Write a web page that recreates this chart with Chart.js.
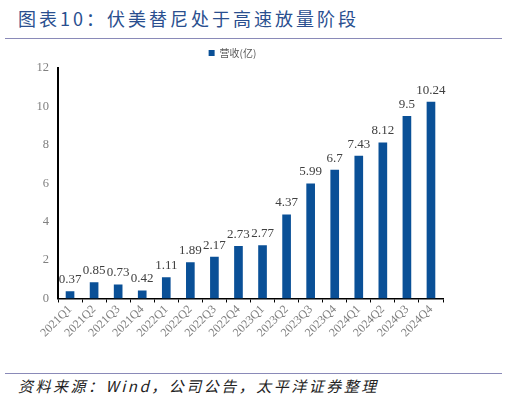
<!DOCTYPE html>
<html>
<head>
<meta charset="utf-8">
<script src="https://cdn.jsdelivr.net/npm/chart.js@4.4.1/dist/chart.umd.min.js"></script>
<style>
  body { margin: 0; background: #fff; width: 507px; height: 400px; position: relative; overflow: hidden; }
  .title { position: absolute; left: 18px; top: 5px; font-family: "Noto Sans CJK SC", sans-serif; font-size: 18px; color: #2a4f8f; letter-spacing: 3px; }
  .rule { position: absolute; left: 5px; right: 5px; height: 1px; background: #8a8ab8; }
  .source { position: absolute; left: 18px; top: 375px; font-family: "Noto Sans CJK SC", sans-serif; font-size: 15px; font-style: italic; color: #222; letter-spacing: 2.5px; }
  #wrap { position: absolute; left: 0; top: 40px; width: 507px; height: 330px; }
</style>
</head>
<body>
<div class="title">图表10：伏美替尼处于高速放量阶段</div>
<div class="rule" style="top:38px"></div>
<div id="wrap"><canvas id="revenueChart"></canvas></div>
<div class="rule" style="top:373px"></div>
<div class="source">资料来源：Wind，公司公告，太平洋证券整理</div>
<script>
const quarters = ['2021Q1', '2021Q2', '2021Q3', '2021Q4', '2022Q1', '2022Q2', '2022Q3', '2022Q4',
                  '2023Q1', '2023Q2', '2023Q3', '2023Q4', '2024Q1', '2024Q2', '2024Q3', '2024Q4'];
const revenue = [0.37, 0.85, 0.73, 0.42, 1.11, 1.89, 2.17, 2.73, 2.77, 4.37, 5.99, 6.7, 7.43, 8.12, 9.5, 10.24];
const yTicks = [0, 2, 4, 6, 8, 10, 12];

const SERIF = "'Times New Roman', 'Liberation Serif', serif";

// value labels above each bar
const barLabels = {
    id: 'barLabels',
    afterDatasetsDraw(chart) {
        const ctx = chart.ctx;
        const meta = chart.getDatasetMeta(0);
        ctx.save();
        ctx.font = '13px ' + SERIF;
        ctx.fillStyle = '#404040';
        ctx.textAlign = 'center';
        ctx.textBaseline = 'bottom';
        meta.data.forEach((bar, i) => {
            ctx.fillText(String(revenue[i]), bar.x, bar.y - 5);
        });
        ctx.restore();
    }
};

function drawChart() {
    new Chart(document.getElementById('revenueChart'), {
        type: 'bar',
        data: {
            labels: quarters,
            datasets: [{
                label: '营收(亿)',
                data: revenue,
                backgroundColor: '#0a5097',
                barPercentage: 0.36,
                categoryPercentage: 1,
            }],
        },
        options: {
            responsive: true,
            maintainAspectRatio: false,
            animation: false,
            layout: { padding: { left: 22, right: 64, top: 0, bottom: 30 } },
            plugins: {
                legend: {
                    position: 'top',
                    labels: {
                        boxWidth: 6, boxHeight: 6, padding: 8,
                        color: '#595959',
                        font: { family: "'Noto Sans CJK SC', sans-serif", size: 10 },
                    },
                },
                tooltip: { enabled: false },
            },
            scales: {
                y: {
                    min: 0, max: 12,
                    afterBuildTicks: axis => { axis.ticks = yTicks.map(v => ({ value: v })); },
                    grid: { display: false, drawTicks: true, tickLength: 4, tickColor: '#000' },
                    border: { display: true, color: '#000', width: 2 },
                    ticks: { color: '#808080', padding: 5, font: { family: SERIF, size: 12.5 } },
                    afterFit: axis => { axis.width = 36; },
                },
                x: {
                    offset: true,
                    grid: { display: true, drawOnChartArea: false, offset: true, tickLength: 4, tickColor: '#000' },
                    border: { display: true, color: '#000', width: 1.5 },
                    ticks: { color: '#808080', autoSkip: false, maxRotation: 45, minRotation: 45, padding: 0, font: { family: SERIF, size: 12 } },
                },
            },
        },
        plugins: [barLabels],
    });
}

document.fonts.load('12px "Liberation Serif"').then(drawChart, drawChart);
</script>
</body>
</html>
